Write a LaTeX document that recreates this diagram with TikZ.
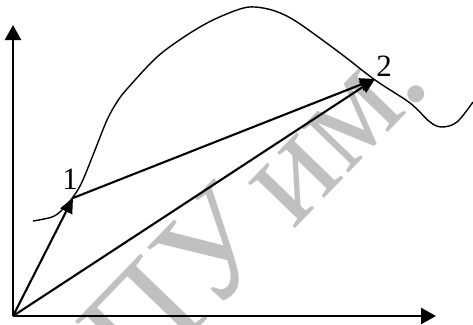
\documentclass[tikz,border=0pt]{standalone}
\usepackage{fontspec}
\setmainfont{Liberation Serif}
\usetikzlibrary{arrows.meta}
\definecolor{wm}{RGB}{192,192,192}
\tikzset{
  axis/.style={line width=2.3pt,-{Triangle[length=15pt,width=16pt]}},
  vec/.style={line width=2.1pt,-{Triangle[length=15pt,width=13pt]}},
  curve/.style={line width=1.4pt},
  lbl/.style={font=\fontsize{31}{31}\selectfont,inner sep=0pt}
}
\begin{document}
\begin{tikzpicture}[x=1pt,y=-1pt]
\useasboundingbox (0,0) rectangle (473,324);
\node[wm,rotate=46,font=\fontsize{142}{142}\selectfont,inner sep=0pt] (wmark) at (254,206) {ПУ\hspace{-0.12em} им.};
\coordinate (O) at (13,316);
\coordinate (X) at (436,316);
\coordinate (Y) at (13,25);
\coordinate (P1) at (73,198);
\coordinate (P2) at (375,79);
\draw[curve] plot[smooth,tension=0.55] coordinates {(33,221) (52,217) (62,210) (73,197) (82,182) (95,150) (107,120) (117,102) (127,89) (157,57) (187,35) (213,20) (240,9) (255,7) (275,11) (297,22) (340,53) (375,80) (410,103) (430,122) (442,127) (457,122) (473,102)};
\draw[axis] (O) -- (Y);
\draw[axis] (O) -- (X);
\draw[vec] (O) -- (P1);
\draw[vec] (P1) -- (P2);
\draw[vec] (O) -- (P2);
\node[lbl] (l1) at (70,179) {1};
\node[lbl] (l2) at (384,66) {2};
\end{tikzpicture}
\end{document}
